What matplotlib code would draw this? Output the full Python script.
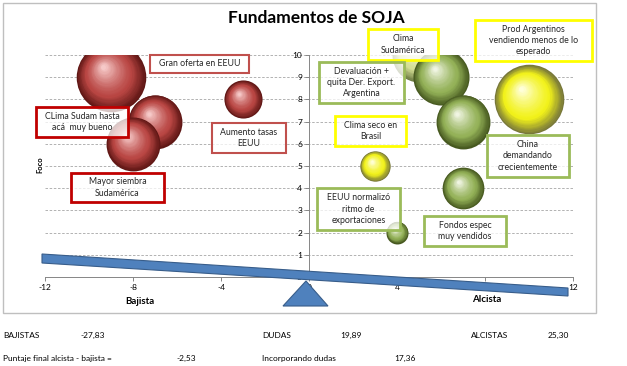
import numpy as np
import matplotlib
matplotlib.use('Agg')
import matplotlib.pyplot as plt
from matplotlib.patches import Rectangle, Polygon
from matplotlib.transforms import ScaledTranslation
from matplotlib.colors import to_rgb

plt.rcParams['font.family'] = ['Lato', 'DejaVu Sans']
plt.rcParams['axes.unicode_minus'] = False

# bubble data: x = bajista/alcista score, y = foco, size = weight
bub_x = [-9, -7, -8, -3, 5, 6, 7, 10, 3, 7, 4]
bub_y = [9, 7, 6, 8, 10, 9, 7, 8, 5, 4, 2]
bub_size = [10, 6, 6, 3, 6, 6.5, 6, 10, 1.9, 3.6, 1]
bub_kind = ['red', 'red', 'red', 'red', 'pale', 'green', 'green',
            'yellow', 'yellow', 'green', 'green']

labels = ['Gran oferta en EEUU', 'CLima Sudam hasta\nacá  muy bueno', 'Aumento tasas\nEEUU',
          'Mayor siembra\nSudamérica', 'Clima\nSudamérica',
          'Devaluación +\nquita Der. Export.\nArgentina',
          'Prod Argentinos\nvendiendo menos de lo\nesperado', 'Clima seco en\nBrasil',
          'China\ndemandando\ncrecientemente', 'EEUU normalizó\nritmo de\nexportaciones',
          'Fondos espec\nmuy vendidos']
label_edge = ['#C0504D', '#C00000', '#C0504D', '#C00000', '#FFFF00', '#9BBB59',
              '#FFFF00', '#FFFF00', '#9BBB59', '#9BBB59', '#9BBB59']
# box layout in pixels (left, top, right, bottom)
label_box = [(150, 55, 249, 73), (36, 107, 128, 137), (212, 123, 286, 153),
             (71, 173, 164, 202), (368, 29, 438, 60), (319, 62, 404, 103),
             (475, 20, 592, 61), (335, 116, 406, 146), (487, 135, 569, 177),
             (317, 188, 400, 230), (424, 216, 506, 246)]

summary_row1 = [('BAJISTAS', '-27,83'), ('DUDAS', '19,89'), ('ALCISTAS', '25,30')]
summary_row2 = [('Puntaje final alcista - bajista =', '-2,53'), ('Incorporando dudas', '17,36')]

shades = {
    'red': ('#5E1614', '#B94643', '#F6C9C8'),
    'green': ('#46581F', '#93B157', '#F0F5E2'),
    'yellow': ('#77773A', '#F2F21A', '#FFFFD8'),
    'pale': ('#6F7D45', '#D3DE93', '#FAFBEA'),
}

W, H = 627, 366
fig = plt.figure(figsize=(W / 100, H / 100), dpi=100)


def fx(px):
    return px / W


def fy(py):
    return 1 - py / H


# outer chart frame
fig.add_artist(Rectangle((fx(3), fy(313)), fx(593), (310) / H, transform=fig.transFigure,
                         fill=False, ec='#BFBFBF', lw=1.0, zorder=0))

ax = fig.add_axes([fx(45), fy(277), fx(528), 222 / H])
ax.set_xlim(-12, 12)
ax.set_ylim(0, 10)

for yv in range(1, 11):
    ax.axhline(yv, color='#A6A6A6', lw=0.6, ls=(0, (3, 2)), zorder=1)

ax.spines['top'].set_visible(False)
ax.spines['right'].set_visible(False)
ax.spines['left'].set_position(('data', 0))
ax.spines['left'].set_color('#868686')
ax.spines['bottom'].set_color('#868686')
ax.spines['left'].set_linewidth(0.7)
ax.spines['bottom'].set_linewidth(0.7)
ax.set_xticks([-12, -8, -4, 0, 4, 8, 12])
ax.set_yticks(range(0, 11))
ax.tick_params(axis='both', labelsize=6, color='#868686', length=3, width=0.7, pad=2)
ax.set_facecolor('none')


def mix(c1, c2, t):
    a, b = np.array(to_rgb(c1)), np.array(to_rgb(c2))
    return tuple(a + (b - a) * t)


n = 30
for x, y, s, k in zip(bub_x, bub_y, bub_size, bub_kind):
    rim, base, hi = shades[k]
    r = 11 * np.sqrt(s)
    for i in range(n):
        t = i / (n - 1)
        rr = r * (1 - 0.93 * t)
        dx = -0.22 * r * t
        dy = 0.30 * r * t
        if t < 0.35:
            col = mix(rim, base, t / 0.35)
        else:
            col = mix(base, hi, ((t - 0.35) / 0.65) ** 1.3)
        tr = ax.transData + ScaledTranslation(dx / 100, dy / 100, fig.dpi_scale_trans)
        ax.scatter([x], [y], s=(2 * rr * 0.72) ** 2, color=col, lw=0,
                   transform=tr, zorder=3)

# label boxes
for txt, ec, (l, t, r, b) in zip(labels, label_edge, label_box):
    lw = 2.0 if ec in ('#C00000', '#FFFF00', '#9BBB59') else 1.5
    fig.add_artist(Rectangle((fx(l), fy(b)), fx(r - l), (b - t) / H, transform=fig.transFigure,
                             fc=(1, 1, 1, 0.75), ec=ec, lw=lw, zorder=4))
    fig.text(fx((l + r) / 2), fy((t + b) / 2), txt, ha='center', va='center',
             fontsize=6.3, color='#262626', linespacing=1.3, zorder=5)

# seesaw bar and pivot
fig.add_artist(Polygon([(fx(42), fy(254)), (fx(568), fy(288)), (fx(568), fy(296)), (fx(42), fy(263))],
                       closed=True, transform=fig.transFigure, fc='#4F81BD', ec='#385D8A',
                       lw=0.8, zorder=6))
fig.add_artist(Polygon([(fx(306), fy(281)), (fx(283), fy(306)), (fx(328), fy(306))],
                       closed=True, transform=fig.transFigure, fc='#4F81BD', ec='#385D8A',
                       lw=0.8, zorder=6))

fig.text(fx(316), fy(18), 'Fundamentos de SOJA', ha='center', va='center',
         fontsize=12.5, fontweight='bold', color='#000000')
fig.text(fx(40), fy(165), 'Foco', rotation=90, ha='center', va='center',
         fontsize=5.5, fontweight='bold')
fig.text(fx(140), fy(301), 'Bajista', ha='center', va='center', fontsize=7, fontweight='bold')
fig.text(fx(487), fy(299), 'Alcista', ha='center', va='center', fontsize=7, fontweight='bold')

# summary numbers below the chart
for (name, val), xn, xv in zip(summary_row1, [3, 262, 471], [80, 340, 548]):
    fig.text(fx(xn), fy(335), name, ha='left', va='center', fontsize=6)
    fig.text(fx(xv), fy(335), val, ha='left', va='center', fontsize=6)
for (name, val), xn, xv in zip(summary_row2, [3, 262], [176, 394]):
    fig.text(fx(xn), fy(358), name, ha='left', va='center', fontsize=6)
    fig.text(fx(xv), fy(358), val, ha='left', va='center', fontsize=6)

fig.savefig('out.png', dpi=100)
